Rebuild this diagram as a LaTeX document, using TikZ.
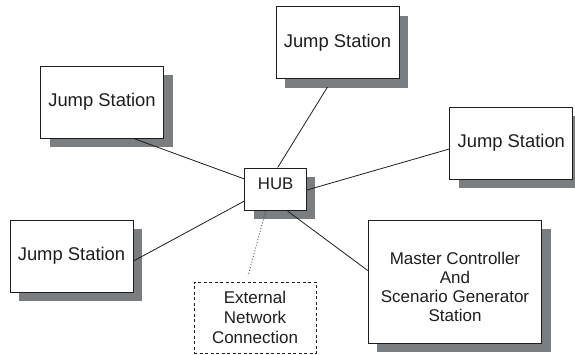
\documentclass[tikz,border=0pt]{standalone}
\usepackage{fontspec}
\setmainfont{Liberation Sans}
\usetikzlibrary{shadows,calc}
\definecolor{shadowgray}{RGB}{122,126,128}
\definecolor{ink}{RGB}{30,30,30}
\tikzset{
  box/.style={draw=ink, line width=1pt, fill=white, text=ink, align=center,
    inner sep=0pt,
    general shadow={fill=shadowgray, shadow xshift=9pt, shadow yshift=-9pt}},
  jsbox/.style={box, minimum width=123pt, minimum height=72pt, font=\fontsize{18.4}{20}\selectfont},
  extbox/.style={draw=ink, line width=0.8pt, dashed, dash pattern=on 3pt off 2.5pt, fill=white, text=ink,
    align=center, inner sep=0pt, minimum width=122pt, minimum height=71pt,
    font=\fontsize{17}{20}\selectfont},
  link/.style={draw=ink, line width=0.8pt},
  dotlink/.style={draw=ink!80, line width=0.9pt, dotted}
}
\begin{document}
\begin{tikzpicture}[x=1pt,y=-1pt]
\clip (0,0) rectangle (575,354);
\fill[white] (0,0) rectangle (575,354);
\node[jsbox] (tj) at (337.5,42.5) {Jump Station};
\node[jsbox] (lt) at (102,102) {Jump Station};
\node[jsbox] (rj) at (511.3,143) {Jump Station};
\node[jsbox] (lb) at (71.5,256) {Jump Station};
\node[box, minimum width=61.5pt, minimum height=42pt, text depth=10pt,
  font=\fontsize{16.8}{20}\selectfont] (hub) at (275.7,189) {HUB};
\node[box, minimum width=173.5pt, minimum height=123pt,
  font=\fontsize{17}{19.5}\selectfont] (ms) at (455,281.5)
  {\raisebox{0pt}[\dimexpr\height+16pt\relax][\depth]{\begin{tabular}{@{}c@{}}Master Controller\\[-0.5pt]And\\[-0.5pt]Scenario Generator\\[-0.5pt]Station\end{tabular}}};
\node[extbox] (ext) at (255,317.5) {External\\Network\\Connection};
\draw[link] ($(lt.south east)+(-30.3,0)$) -- ($(hub.west)+(0,-10)$);
\draw[link] ($(tj.south)+(-10,8)$) -- ($(hub.north)+(2,0)$);
\draw[link] ($(rj.west)+(0,6)$) -- ($(hub.east)+(0,1)$);
\draw[link] ($(lb.east)+(0,5)$) -- ($(hub.west)+(0,12)$);
\draw[link] ($(ms.west)+(0,-11)$) -- ($(hub.south)+(12,0.7)$);
\draw[dotlink] ($(hub.south)+(-10,0.7)$) -- ($(ext.north)+(-7,-6)$);
\end{tikzpicture}
\end{document}
